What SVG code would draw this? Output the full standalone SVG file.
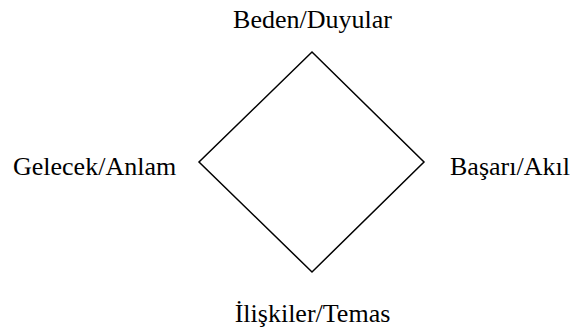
<svg xmlns="http://www.w3.org/2000/svg" width="572" height="329" viewBox="0 0 572 329">
<style>
.lbl{font-family:"Liberation Serif","Times New Roman",serif;font-size:26px;fill:#000}
.shape{fill:none;stroke:#000;stroke-width:1.5}
</style>
<rect width="572" height="329" fill="#fff"/>
<g id="diamond">
<polygon class="shape" points="312,52 424,162 312,272 199,162"/>
</g>
<g id="top"><text class="lbl" x="312.5" y="28" text-anchor="middle">Beden/Duyular</text></g>
<g id="left"><text class="lbl" x="13" y="175">Gelecek/Anlam</text></g>
<g id="right"><text class="lbl" x="450" y="175">Başarı/Akıl</text></g>
<g id="bottom"><text class="lbl" x="312.5" y="322" text-anchor="middle">İlişkiler/Temas</text></g>
<g id="connectors"></g>
</svg>
